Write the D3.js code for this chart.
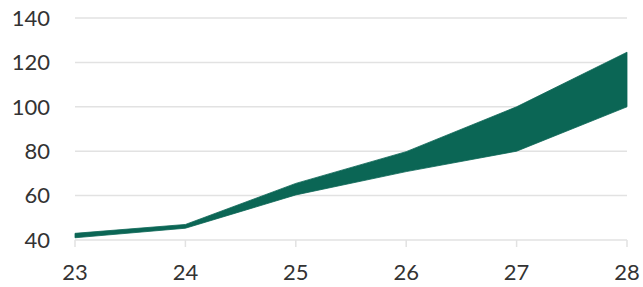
<!DOCTYPE html>
<html>
<head>
<meta charset="utf-8">
<script src="https://cdn.jsdelivr.net/npm/d3@7"></script>
<style>
    body { margin: 0; background: #fff; }
    text { font-family: Lato, "Open Sans", sans-serif; fill: #333; }
</style>
</head>
<body>
<div id="chart"></div>
<script>
var years = [23, 24, 25, 26, 27, 28];
var lowVals = [41, 45.3, 60.3, 70.8, 80, 100];
var highVals = [43, 47, 65.5, 79.8, 100, 124.6];
var yTicks = [40, 60, 80, 100, 120, 140];

var width = 643, height = 287;
var margin = {top: 18, right: 16, bottom: 47, left: 75};

var svg = d3.select("#chart").append("svg")
    .attr("width", width)
    .attr("height", height);

var x = d3.scaleLinear()
    .domain([23, 28])
    .range([margin.left, width - margin.right]);

var y = d3.scaleLinear()
    .domain([40, 140])
    .range([height - margin.bottom, margin.top]);

// Gridlines
svg.append("g")
    .selectAll("line")
    .data(yTicks)
    .join("line")
    .attr("x1", x(23))
    .attr("x2", x(28))
    .attr("y1", d => y(d))
    .attr("y2", d => y(d))
    .attr("stroke", "#e2e2e2")
    .attr("stroke-width", 1.5);

// x tick marks
svg.append("g")
    .selectAll("line")
    .data(years)
    .join("line")
    .attr("x1", d => x(d))
    .attr("x2", d => x(d))
    .attr("y1", y(40))
    .attr("y2", y(40) + 7)
    .attr("stroke", "#e2e2e2")
    .attr("stroke-width", 1.5);

// y labels
svg.append("g")
    .selectAll("text")
    .data(yTicks)
    .join("text")
    .attr("x", 50)
    .attr("y", d => y(d))
    .attr("dy", "0.35em")
    .attr("text-anchor", "end")
    .attr("font-size", 22)
    .text(d => d);

// x labels
svg.append("g")
    .selectAll("text")
    .data(years)
    .join("text")
    .attr("x", d => x(d))
    .attr("y", 280)
    .attr("text-anchor", "middle")
    .attr("font-size", 22)
    .text(d => d);

// band
var rows = years.map((d, i) => ({year: d, lo: lowVals[i], hi: highVals[i]}));
var area = d3.area()
    .x(d => x(d.year))
    .y0(d => y(d.lo))
    .y1(d => y(d.hi));

svg.append("path")
    .datum(rows)
    .attr("d", area)
    .attr("fill", "#0b6655")
    .attr("stroke", "#0b6655")
    .attr("stroke-width", 0.8);
</script>
</body>
</html>
